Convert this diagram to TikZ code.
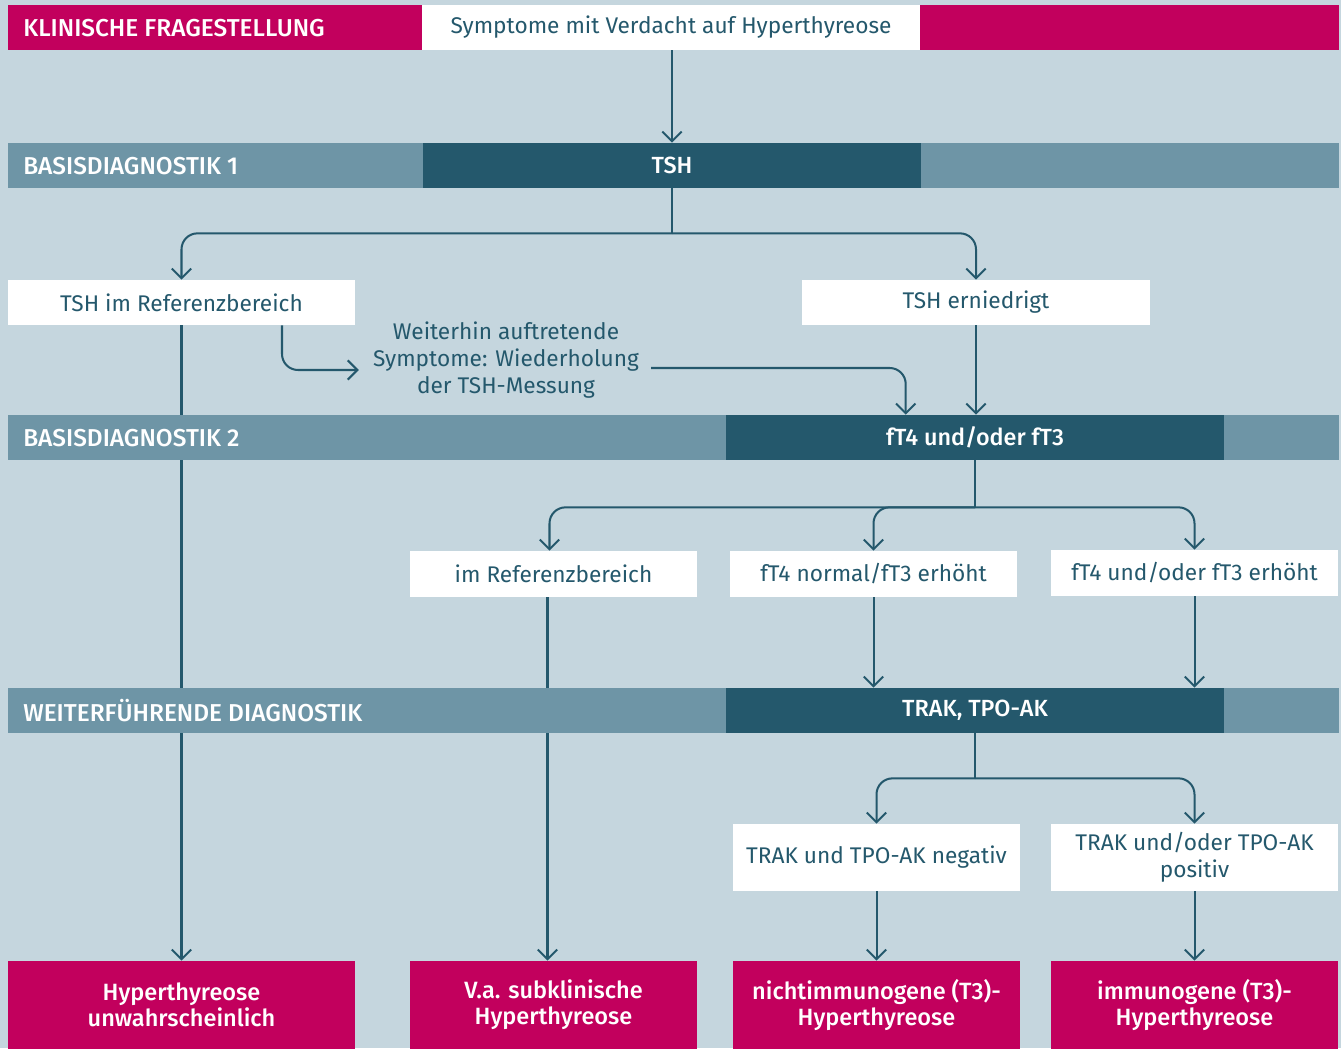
\documentclass[tikz,border=0pt]{standalone}
\usepackage{fontspec}
\setmainfont{Fira Sans}
\newfontfamily\medfont{Fira Sans Medium}
\usetikzlibrary{arrows.meta,positioning,calc}
\definecolor{bgblue}{HTML}{C5D6DE}
\definecolor{berry}{HTML}{C2005D}
\definecolor{deepteal}{HTML}{24586C}
\definecolor{midteal}{HTML}{6E95A6}
\pgfdeclarelayer{bg}
\pgfdeclarelayer{wires}
\pgfsetlayers{bg,wires,main}

\begin{document}
\begin{tikzpicture}[x=0.02cm, y=-0.02cm,
        hbar/.style={rectangle, inner sep=0pt, anchor=north west,
                     minimum width=26.62cm, minimum height=0.9cm},
        hlabel/.style={anchor=west, inner sep=0pt, text=white,
                       font=\fontsize{13.9}{16}\selectfont\medfont},
        keybox/.style={rectangle, fill=deepteal, text=white, inner sep=0pt,
                       minimum width=9.96cm, minimum height=0.9cm,
                       font=\fontsize{13.3}{16}\selectfont\medfont},
        wbox/.style={rectangle, fill=white, text=deepteal, inner sep=0pt,
                     align=center, minimum height=0.92cm,
                     font=\fontsize{12.9}{15.3}\selectfont},
        endbox/.style={rectangle, fill=berry, text=white, inner sep=0pt,
                       align=center, minimum width=5.74cm, minimum height=1.76cm,
                       font=\fontsize{13.4}{14.8}\selectfont\medfont},
        flow/.style={draw=deepteal, line width=1.15pt},
        arr/.style={flow, -{Straight Barb[length=5.5pt,width=11pt]}},
        turn/.style={rounded corners=0.32cm}
    ]

    %% ── background ──────────────────────────────────────────────────────────
    \begin{pgfonlayer}{bg}
        \fill[bgblue] (0,0) rectangle (1341,1048);
    \end{pgfonlayer}
    \useasboundingbox (0,0) rectangle (1341,1048);

    %% ── level bars ──────────────────────────────────────────────────────────
    \node[hbar, fill=berry]   (bar0) at (8,5)   {};
    \node[hbar, fill=midteal] (bar1) at (8,143) {};
    \node[hbar, fill=midteal] (bar2) at (8,415) {};
    \node[hbar, fill=midteal] (bar3) at (8,688) {};

    \node[hlabel] (lab0) at ($(bar0.west)+(15,0)$) {KLINISCHE FRAGESTELLUNG};
    \node[hlabel] (lab1) at ($(bar1.west)+(15,0)$) {BASISDIAGNOSTIK 1};
    \node[hlabel] (lab2) at ($(bar2.west)+(15,0)$) {BASISDIAGNOSTIK 2};
    \node[hlabel] (lab3) at ($(bar3.west)+(15,0)$) {WEITERFÜHRENDE DIAGNOSTIK};

    %% ── question and tests ──────────────────────────────────────────────────
    \node[wbox, minimum width=9.96cm, minimum height=0.9cm] (sym) at (671,27.5)
        {Symptome mit Verdacht auf Hyperthyreose};
    \node[keybox] (tsh)  at (672,165.5) {TSH};
    \node[keybox] (fts)  at (975,437.5) {fT4 und/oder fT3};
    \node[keybox] (trak) at (975,710.5) {TRAK, TPO-AK};

    %% ── findings ────────────────────────────────────────────────────────────
    \node[wbox, minimum width=6.94cm, minimum height=0.9cm] (tshref) at (181.5,302.5)
        {TSH im Referenzbereich};
    \node[wbox, minimum width=6.96cm, minimum height=0.9cm] (tshlow) at (976,302.5)
        {TSH erniedrigt};
    \node[text=deepteal, align=center, font=\fontsize{12.9}{15.3}\selectfont]
        (hint) at (506,360)
        {Weiterhin auftretende\\Symptome: Wiederholung\\der TSH-Messung};

    \node[wbox, minimum width=5.74cm] (refb)   at (553.5,574)  {im Referenzbereich};
    \node[wbox, minimum width=5.74cm] (ft3up)  at (873.5,574)  {fT4 normal/fT3 erhöht};
    \node[wbox, minimum width=5.74cm] (bothup) at (1194.5,573) {fT4 und/oder fT3 erhöht};

    \node[wbox, minimum width=5.74cm, minimum height=1.34cm] (neg) at (876.5,857.5)
        {TRAK und TPO-AK negativ};
    \node[wbox, minimum width=5.74cm, minimum height=1.34cm] (pos) at (1194.5,857.5)
        {TRAK und/oder TPO-AK\\positiv};

    %% ── results ─────────────────────────────────────────────────────────────
    \node[endbox, minimum width=6.94cm] (res1) at (181.5,1005)
        {Hyperthyreose\\unwahrscheinlich};
    \node[endbox] (res2) at (553.5,1005) {V.a. subklinische\\Hyperthyreose};
    \node[endbox] (res3) at (876.5,1005) {nichtimmunogene (T3)-\\Hyperthyreose};
    \node[endbox] (res4) at (1194.5,1005) {immunogene (T3)-\\Hyperthyreose};

    %% ── connectors (behind the bars) ────────────────────────────────────────
    \begin{pgfonlayer}{wires}
        \draw[arr] (sym.south -| tsh.north) -- (tsh.north);

        \coordinate (j1) at ($(tsh.south)+(0,45)$);
        \draw[flow] (tsh.south) -- (j1);
        \draw[arr, turn] (j1) -| (tshref.north);
        \draw[arr, turn] (j1) -| (tshlow.north);

        %% repeat loop round the hint text
        \draw[arr, turn] ($(tshref.south)+(100.5,0)$) |- ($(hint.west)+(-8,10)$);
        \draw[arr, turn] ($(hint.east)+(6,8)$) -| ($(fts.north west)+(180,0)$);
        \draw[arr] (tshlow.south) -- (tshlow.south |- fts.north);

        \draw[arr] (tshref.south) -- (res1.north);

        \coordinate (j2) at ($(fts.south)+(0,47)$);
        \draw[flow] (fts.south) -- (j2);
        \draw[arr, turn] (j2) -| ($(refb.north)+(-4,0)$);
        \draw[arr, turn] (j2) -| (ft3up.north);
        \draw[arr, turn] (j2) -| (bothup.north);

        \draw[arr] ($(refb.south)+(-6,0)$) -- ($(res2.north)+(-6,0)$);
        \draw[arr] (ft3up.south) -- (ft3up.south |- trak.north);
        \draw[arr] (bothup.south) -- (bothup.south |- trak.north);

        \coordinate (j3) at ($(trak.south)+(0,45)$);
        \draw[flow] (trak.south) -- (j3);
        \draw[arr, turn] (j3) -| (neg.north);
        \draw[arr, turn] (j3) -| (pos.north);

        \draw[arr] (neg.south) -- (res3.north);
        \draw[arr] (pos.south) -- (res4.north);
    \end{pgfonlayer}

\end{tikzpicture}
\end{document}
